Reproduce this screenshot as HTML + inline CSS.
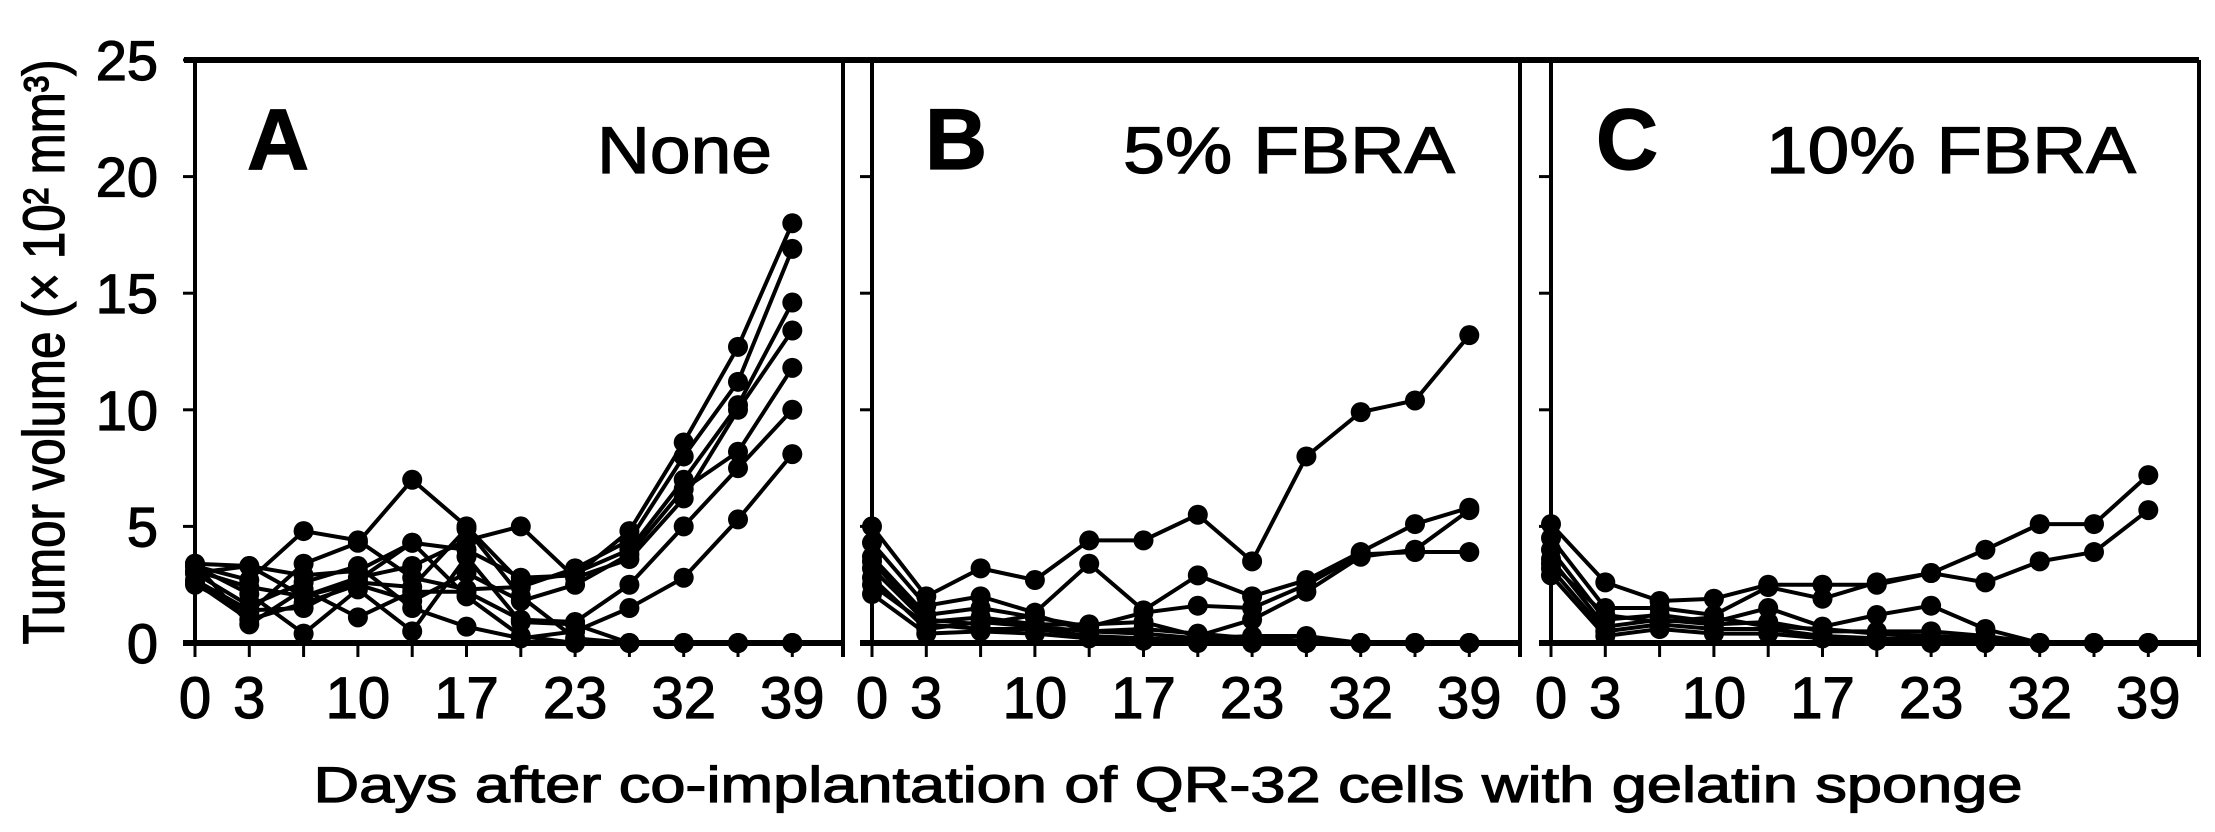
<!DOCTYPE html>
<html><head><meta charset="utf-8">
<style>
html,body{margin:0;padding:0;background:#fff;}
svg{display:block;}
text{font-family:"Liberation Sans",Arial,sans-serif;fill:#000;stroke:#000;stroke-width:1.2px;}
</style></head>
<body>
<svg id="chart" width="2215" height="832" viewBox="0 0 2215 832" xmlns="http://www.w3.org/2000/svg">
<g id="axes"></g>
<g id="marks"></g>
<text transform="translate(64,352) rotate(-90)" text-anchor="middle" font-size="58" textLength="585" lengthAdjust="spacingAndGlyphs">Tumor volume (× 10² mm³)</text>
<text x="1168" y="802" text-anchor="middle" font-size="50" textLength="1709" lengthAdjust="spacingAndGlyphs">Days after co-implantation of QR-32 cells with gelatin sponge</text>
</svg>
<script>
const xTickIdx = [0,1,3,5,7,9,11];
const xTickLabels = ["0","3","10","17","23","32","39"];
const yTicks = [0,5,10,15,20,25];
const panelLetters = ["A","B","C"];
const panelTitles = ["None","5% FBRA","10% FBRA"];
const seriesA = [
 [3.4,3.3,2.9,3.1,4.3,4.0,2.8,2.9,4.8,8.6,12.7,18.0],
 [3.3,2.7,4.8,4.4,2.8,2.3,2.4,3.2,4.4,8.0,11.2,16.9],
 [2.5,1.3,3.4,4.3,7.0,5.0,2.6,3.0,4.0,7.0,10.2,14.6],
 [3.0,3.3,2.0,2.8,3.3,4.4,5.0,2.8,3.6,6.2,10.0,13.4],
 [2.6,1.0,1.7,2.5,1.8,3.0,1.8,2.5,3.8,6.6,8.2,11.8],
 [3.4,0.8,2.3,1.1,2.2,2.2,1.0,0.9,2.5,5.0,7.5,10.0],
 [3.0,1.6,2.6,3.3,1.5,0.7,0.2,0.5,1.5,2.8,5.3,8.1],
 [3.3,2.1,0.4,2.3,0.5,3.7,0.9,0.8,0,0,0,0],
 [2.7,1.4,1.5,2.7,4.3,2.0,0.3,0,0,0,0,0],
 [3.1,2.4,2.0,2.6,2.4,4.9,2.0,0.2,0,0,0,0]
];
const seriesB = [
 [5.0,2.0,3.2,2.7,4.4,4.4,5.5,3.5,8.0,9.9,10.4,13.2],
 [4.3,1.6,2.0,1.3,3.4,1.4,2.9,2.0,2.7,3.9,5.1,5.8],
 [3.7,1.2,1.5,1.1,0.7,1.3,1.6,1.5,2.5,3.8,3.9,3.9],
 [3.2,0.9,1.1,0.8,0.8,0.9,0.3,1.0,2.2,3.7,4.0,5.7],
 [2.8,0.6,0.9,0.7,0.5,0.4,0.2,0.3,0.3,0,0,0],
 [2.5,0.8,0.6,0.6,0.3,0.2,0.1,0.1,0,0,0,0],
 [2.1,0.4,0.5,0.4,0.2,0.1,0,0,0,0,0,0],
 [3.5,1.0,0.8,1.2,0.5,0.6,0.4,0.2,0.1,0,0,0]
];
const seriesC = [
 [5.1,2.6,1.8,1.9,2.5,2.5,2.5,3.0,4.0,5.1,5.1,7.2],
 [4.5,1.5,1.5,1.2,2.4,1.9,2.6,3.0,2.6,3.5,3.9,5.7],
 [4.0,1.0,1.2,0.9,1.5,0.7,1.2,1.6,0.6,0,0,0],
 [3.6,0.7,1.0,0.8,0.9,0.5,0.5,0.5,0.3,0,0,0],
 [3.2,0.5,0.8,0.6,0.6,0.3,0.2,0.2,0.1,0,0,0],
 [2.9,0.3,0.6,0.4,0.4,0.2,0.1,0,0,0,0,0],
 [3.4,1.2,0.9,1.1,0.7,0.6,0.4,0.3,0.2,0,0,0]
];
const allSeries = [seriesA, seriesB, seriesC];

const NS = "http://www.w3.org/2000/svg";
const panelLeft = [195, 872, 1551];
const panelW = 648;
const yTop = 60, yZero = 643, yMax = 25;
const step = 54.3;
function xScale(p, i){ return panelLeft[p] + i*step; }
function yScale(v){ return yZero - (v / yMax) * (yZero - yTop); }
function mk(tag, attrs, parent){
  const el = document.createElementNS(NS, tag);
  for (const k in attrs) el.setAttribute(k, attrs[k]);
  parent.appendChild(el);
  return el;
}
const axes = document.getElementById('axes');
const marks = document.getElementById('marks');

let topLine = mk('line',{x1:184,y1:yTop,x2:panelLeft[2]+panelW,y2:yTop,stroke:'#000','stroke-width':6},axes);



yTicks.forEach(v=>{
  const t = mk('text',{x:158,y:yScale(v)+20,'text-anchor':'end','font-size':56},axes);
  t.textContent = v;
  
  
});

for (let p=0;p<3;p++){
  const L = panelLeft[p], R = L+panelW;
  const g = mk('g',{},axes);
  
  
  mk('line',{x1:L,y1:yTop,x2:L,y2:yZero,stroke:'#000','stroke-width':4},g);
  mk('line',{x1:R,y1:yTop,x2:R,y2:yZero+14,stroke:'#000','stroke-width':4},g);
  const zl = mk('line',{x1:L-12,y1:yZero,x2:R,y2:yZero,stroke:'#000','stroke-width':6},g);
  
  
  yTicks.forEach(v=>{
    mk('line',{x1:L-12,y1:yScale(v),x2:L,y2:yScale(v),stroke:'#000','stroke-width':3},g);
  });
  for (let i=0;i<12;i++){
    mk('line',{x1:xScale(p,i),y1:yZero,x2:xScale(p,i),y2:yZero+14,stroke:'#000','stroke-width':3},g);
  }
  xTickIdx.forEach((idx,k)=>{
    const t = mk('text',{x:xScale(p,idx),y:718,'text-anchor':'middle','font-size':58},g);
    t.textContent = xTickLabels[k];
    
    
  });
  const letterX = [247,925,1596][p];
  const lt = mk('text',{x:letterX,y:169,'font-size':86,'font-weight':'bold'},g);
  lt.textContent = panelLetters[p];
  
  
  const titleX = [[597,772],[1123,1455],[1766,2136]][p];
  const tt = mk('text',{x:titleX[0],y:173,'font-size':66,textLength:titleX[1]-titleX[0],lengthAdjust:'spacingAndGlyphs'},g);
  tt.textContent = panelTitles[p];
  
  
}

allSeries.forEach((series,p)=>{
  series.forEach((vals,s)=>{
    const g = mk('g',{},marks);
    
    
    const pts = vals.map((v,i)=>xScale(p,i)+','+yScale(v)).join(' ');
    mk('polyline',{points:pts,fill:'none',stroke:'#000','stroke-width':4,'stroke-linejoin':'round'},g);
    vals.forEach((v,i)=>{
      const c = mk('circle',{cx:xScale(p,i),cy:yScale(v),r:10,fill:'#000'},g);
      
      
    });
  });
});
</script>
</body></html>
